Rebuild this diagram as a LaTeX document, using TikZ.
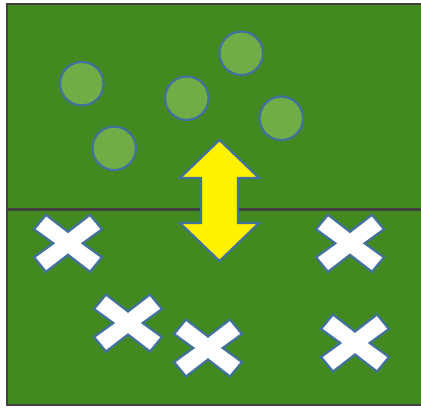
\documentclass[tikz,border=0pt]{standalone}
\usepackage{tikz}
\usepackage{xcolor}

\definecolor{grass}{RGB}{66,138,32}
\definecolor{edgeblue}{RGB}{65,113,156}
\definecolor{chipgreen}{RGB}{112,173,71}
\definecolor{fieldline}{RGB}{64,64,64}

\begin{document}
\begin{tikzpicture}[x=1pt, y=-1pt,
  chip/.style={circle, draw=edgeblue, line width=2.2pt, fill=chipgreen,
               minimum size=43.5pt, inner sep=0pt},
  crossmark/.pic={
    \draw[edgeblue, line width=2.2pt, fill=white, line join=miter]
      (0,-11.5) -- (22,-28.5) -- (34,-14) -- (14.7,0) -- (34,14)
      -- (22,28.5) -- (0,11.5) -- (-22,28.5) -- (-34,14) -- (-14.7,0)
      -- (-34,-14) -- (-22,-28.5) -- cycle;
  }]
  \useasboundingbox (0,0) rectangle (421,408);
  % Field
  \fill[grass] (7,4) rectangle (421,405);
  \draw[fieldline, line width=2.2pt] (421,4) -- (7,4) -- (7,405) -- (421,405);
  % Halfway line
  \draw[fieldline, line width=2.4pt] (7,209.5) -- (421,209.5);
  % Top half: circles
  \node[chip] (c1) at (81.8,83.7) {};
  \node[chip] (c2) at (114.2,148.3) {};
  \node[chip] (c3) at (186.8,98.2) {};
  \node[chip] (c4) at (241.3,53.3) {};
  \node[chip] (c5) at (281.3,118.3) {};
  % Double arrow across the line
  \draw[edgeblue, line width=2.2pt, fill=yellow, line join=miter]
    (219.5,140) -- (259,178) -- (238,178) -- (238,223) -- (259,223)
    -- (219.5,261) -- (180,223) -- (201,223) -- (201,178) -- (180,178)
    -- cycle;
  % Bottom half: crosses
  \pic (x1) at (68,243.3) {crossmark};
  \pic (x2) at (350,243.3) {crossmark};
  \pic (x3) at (128,323) {crossmark};
  \pic (x4) at (208,348) {crossmark};
  \pic (x5) at (355,343) {crossmark};
\end{tikzpicture}
\end{document}
